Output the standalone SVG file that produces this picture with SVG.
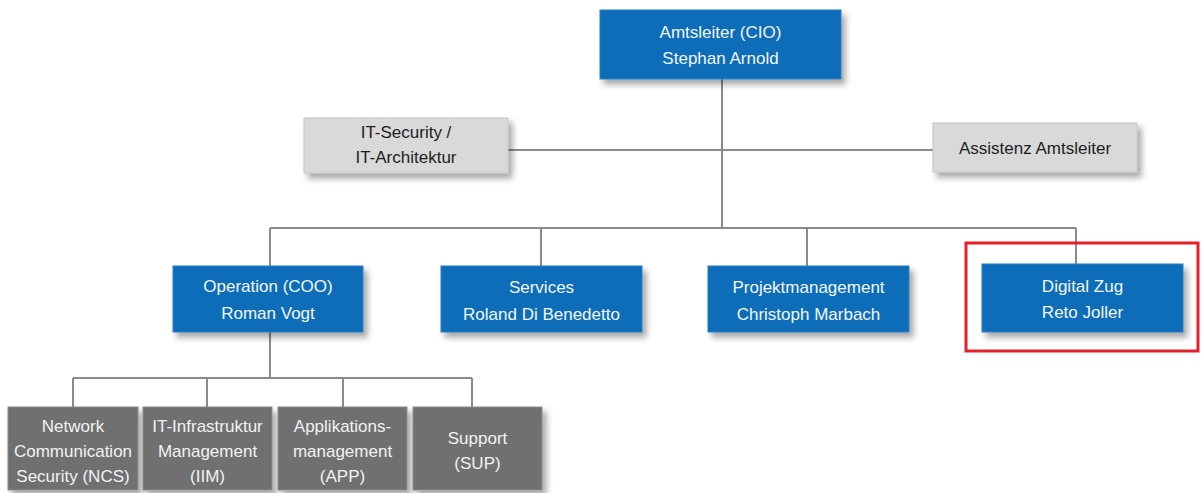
<svg xmlns="http://www.w3.org/2000/svg" width="1201" height="493" viewBox="0 0 1201 493">
  <defs>
    <filter id="shadow" x="-10%" y="-20%" width="130%" height="160%">
      <feDropShadow dx="4" dy="5" stdDeviation="3" flood-color="#000" flood-opacity="0.35"/>
    </filter>
    <style>
      text { font-family: "Liberation Sans", Arial, sans-serif; font-size: 17px; text-anchor: middle; }
      .blue rect { fill: #0b6db8; stroke: #2a7fc2; stroke-width: 1; filter: url(#shadow); }
      .blue text { fill: #f2f6fb; }
      .light rect { fill: #d9d9d9; stroke: #c4c4c4; stroke-width: 1; filter: url(#shadow); }
      .light text { fill: #1e1e1e; }
      .dark rect { fill: #6f6f6f; stroke: #8c8c8c; stroke-width: 1; filter: url(#shadow); }
      .dark text { fill: #f2f2f2; }
      .conn { fill: none; stroke: #8a8a8a; stroke-width: 2; }
    </style>
  </defs>
  <rect width="1201" height="493" fill="#ffffff"/>

  <!-- connectors -->
  <g id="connectors" class="conn">
    <path d="M722 79 V228"/>
    <path d="M508 150 H934"/>
    <path d="M270 228 H1076"/>
    <path d="M270 228 V266"/>
    <path d="M541 228 V266"/>
    <path d="M807 228 V266"/>
    <path d="M1076 228 V264"/>
    <path d="M270 332 V378"/>
    <path d="M73 378 H472"/>
    <path d="M73 378 V407"/>
    <path d="M207 378 V407"/>
    <path d="M343 378 V407"/>
    <path d="M472 378 V407"/>
  </g>

  <g id="cio" class="blue">
    <rect x="600" y="10" width="241" height="69"/>
    <text x="720.5" y="38">Amtsleiter (CIO)</text>
    <text x="720.5" y="64">Stephan Arnold</text>
  </g>

  <g id="it-security" class="light">
    <rect x="304" y="118" width="204" height="55"/>
    <text x="406" y="138">IT-Security /</text>
    <text x="406" y="163">IT-Architektur</text>
  </g>

  <g id="assistenz" class="light">
    <rect x="933" y="123" width="204" height="49"/>
    <text x="1035" y="154">Assistenz Amtsleiter</text>
  </g>

  <g id="operation" class="blue">
    <rect x="173" y="266" width="190" height="66"/>
    <text x="268" y="292">Operation (COO)</text>
    <text x="268" y="319">Roman Vogt</text>
  </g>

  <g id="services" class="blue">
    <rect x="441" y="266" width="201" height="66"/>
    <text x="541.5" y="293">Services</text>
    <text x="541.5" y="320">Roland Di Benedetto</text>
  </g>

  <g id="projektmanagement" class="blue">
    <rect x="708" y="266" width="201" height="66"/>
    <text x="808.5" y="293">Projektmanagement</text>
    <text x="808.5" y="320">Christoph Marbach</text>
  </g>

  <g id="digital-zug" class="blue">
    <rect x="982" y="264" width="201" height="68"/>
    <text x="1082.5" y="292">Digital Zug</text>
    <text x="1082.5" y="318">Reto Joller</text>
  </g>

  <!-- highlight frame -->
  <rect id="highlight" x="966" y="243" width="232" height="108" fill="none" stroke="#e3202b" stroke-width="3"/>

  <g id="ncs" class="dark">
    <rect x="8" y="407" width="130" height="83"/>
    <text x="73" y="432">Network</text>
    <text x="73" y="457">Communication</text>
    <text x="73" y="482">Security (NCS)</text>
  </g>

  <g id="iim" class="dark">
    <rect x="143" y="407" width="129" height="83"/>
    <text x="207.5" y="432">IT-Infrastruktur</text>
    <text x="207.5" y="457">Management</text>
    <text x="207.5" y="482">(IIM)</text>
  </g>

  <g id="app" class="dark">
    <rect x="278" y="407" width="129" height="83"/>
    <text x="342.5" y="432">Applikations-</text>
    <text x="342.5" y="457">management</text>
    <text x="342.5" y="482">(APP)</text>
  </g>

  <g id="sup" class="dark">
    <rect x="413" y="407" width="129" height="83"/>
    <text x="477.5" y="444">Support</text>
    <text x="477.5" y="469">(SUP)</text>
  </g>
</svg>
